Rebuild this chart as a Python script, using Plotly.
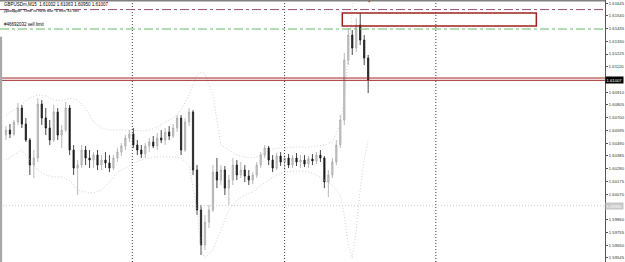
import plotly.graph_objects as go

# ---- data (GBPUSDm, M15) ----
bar_index = list(range(92))
open_ = [1.60557,1.60598,1.60566,1.60664,1.60780,1.60648,1.60516,1.60310,1.60368,1.60813,
         1.60697,1.60615,1.60516,1.60747,1.60557,1.60598,1.60780,1.60434,1.60285,1.60310,
         1.60434,1.60368,1.60351,1.60392,1.60310,1.60351,1.60327,1.60285,1.60368,1.60417,
         1.60467,1.60533,1.60566,1.60475,1.60434,1.60401,1.60467,1.60500,1.60467,1.60533,
         1.60516,1.60582,1.60549,1.60615,1.60697,1.60434,1.60664,1.60747,1.60269,1.59939,
         1.59651,1.59840,1.59939,1.60252,1.60186,1.60269,1.60120,1.60186,1.60310,1.60228,
         1.60269,1.60219,1.60186,1.60228,1.60310,1.60392,1.60450,1.60351,1.60285,1.60384,
         1.60335,1.60368,1.60310,1.60368,1.60335,1.60351,1.60318,1.60360,1.60343,1.60392,
         1.60368,1.60170,1.60228,1.60335,1.60475,1.60681,1.61175,1.61381,1.61274,1.61464,
         1.61340,1.61192]
high = [1.60631,1.60648,1.60681,1.60821,1.60805,1.60697,1.60533,1.60434,1.60862,1.60846,
        1.60780,1.60681,1.60805,1.60780,1.60640,1.60829,1.60805,1.60475,1.60351,1.60475,
        1.60467,1.60434,1.60417,1.60434,1.60392,1.60417,1.60392,1.60392,1.60450,1.60491,
        1.60557,1.60598,1.60615,1.60516,1.60475,1.60491,1.60533,1.60549,1.60574,1.60598,
        1.60615,1.60631,1.60648,1.60722,1.60722,1.60697,1.60780,1.60763,1.60310,1.59981,
        1.59898,1.59981,1.60310,1.60368,1.60310,1.60302,1.60228,1.60368,1.60351,1.60335,
        1.60310,1.60269,1.60252,1.60335,1.60417,1.60475,1.60467,1.60392,1.60409,1.60417,
        1.60392,1.60401,1.60392,1.60409,1.60392,1.60392,1.60384,1.60401,1.60417,1.60434,
        1.60384,1.60269,1.60368,1.60516,1.60722,1.61233,1.61439,1.61423,1.61522,1.61563,
        1.61381,1.61217]
low = [1.60516,1.60533,1.60549,1.60640,1.60615,1.60500,1.60228,1.60203,1.60335,1.60640,
       1.60557,1.60475,1.60500,1.60516,1.60450,1.60582,1.60392,1.60228,1.60063,1.60285,
       1.60310,1.60285,1.60285,1.60269,1.60269,1.60285,1.60252,1.60269,1.60335,1.60384,
       1.60434,1.60500,1.60450,1.60392,1.60368,1.60368,1.60417,1.60450,1.60434,1.60491,
       1.60475,1.60516,1.60533,1.60582,1.60392,1.60417,1.60631,1.60228,1.59898,1.59569,
       1.59610,1.59791,1.59923,1.60120,1.60145,1.60063,1.59981,1.60145,1.60186,1.60203,
       1.60170,1.60145,1.60153,1.60203,1.60285,1.60368,1.60310,1.60252,1.60269,1.60302,
       1.60269,1.60285,1.60285,1.60302,1.60285,1.60294,1.60285,1.60310,1.60318,1.60335,
       1.60120,1.60046,1.60203,1.60310,1.60450,1.60640,1.61134,1.61217,1.61241,1.61299,
       1.61134,1.60903]
close = [1.60598,1.60566,1.60664,1.60780,1.60648,1.60516,1.60310,1.60368,1.60813,1.60697,
         1.60615,1.60516,1.60747,1.60557,1.60598,1.60780,1.60434,1.60285,1.60310,1.60434,
         1.60368,1.60351,1.60392,1.60310,1.60351,1.60327,1.60285,1.60368,1.60417,1.60467,
         1.60533,1.60566,1.60475,1.60434,1.60401,1.60467,1.60500,1.60467,1.60533,1.60516,
         1.60582,1.60549,1.60615,1.60697,1.60434,1.60664,1.60747,1.60269,1.59939,1.59651,
         1.59840,1.59939,1.60252,1.60186,1.60269,1.60120,1.60186,1.60310,1.60228,1.60269,
         1.60219,1.60186,1.60228,1.60310,1.60392,1.60450,1.60351,1.60285,1.60384,1.60335,
         1.60368,1.60310,1.60368,1.60335,1.60351,1.60318,1.60360,1.60343,1.60392,1.60368,
         1.60170,1.60228,1.60335,1.60475,1.60681,1.61175,1.61381,1.61274,1.61464,1.61340,
         1.61192,1.61010]

band_index = [0,2,4,6,8,10,12,14,16,18,20,22,24,26,28,30,32,34,36,38,40,42,44,46,48,49,
              50,52,54,56,58,60,62,64,66,68,70,72,74,76,78,80,82,84,85,86,87,88,89,90,91]
band_upper = [1.60722,1.60763,1.60813,1.60862,1.60887,1.60879,1.60846,1.60838,1.60862,1.60846,
              1.60780,1.60664,1.60615,1.60598,1.60598,1.60598,1.60598,1.60590,1.60598,1.60623,
              1.60664,1.60697,1.60763,1.60887,1.61052,1.61076,1.61060,1.60887,1.60475,1.60434,
              1.60392,1.60376,1.60368,1.60392,1.60434,1.60450,1.60450,1.60458,1.60458,1.60458,
              1.60467,1.60475,1.60500,1.60640,1.60862,1.61258,1.61629,1.61917,1.62164,1.62411,
              1.62494]
band_lower = [1.60351,1.60392,1.60434,1.60351,1.60269,1.60228,1.60211,1.60211,1.60186,1.60104,
              1.60088,1.60079,1.60104,1.60170,1.60252,1.60285,1.60327,1.60351,1.60368,1.60376,
              1.60376,1.60376,1.60368,1.60310,1.59939,1.59610,1.59544,1.59610,1.59775,1.59939,
              1.60022,1.60063,1.60088,1.60145,1.60186,1.60228,1.60252,1.60261,1.60261,1.60252,
              1.60228,1.60186,1.60145,1.60063,1.59898,1.59651,1.59544,1.59775,1.60104,1.60351,
              1.60516]

# 1.61015 and 1.59965 sit under the price boxes on the right
tick_values = [1.61645,1.61540,1.61435,1.61330,1.61225,1.61120,1.60910,1.60805,1.60700,1.60595,
               1.60490,1.60385,1.60280,1.60175,1.60070,1.59860,1.59755,1.59650,1.59545]
tick_labels = ["1.61645","1.61540","1.61435","1.61330","1.61225","1.61120","1.60910","1.60805",
               "1.60700","1.60595","1.60490","1.60385","1.60280","1.60175","1.60070",
               "1.59860","1.59755","1.59650","1.59545"]

period_separators = [31.75, 70, 108]
level_purple = 1.61591
level_sell_limit = 1.61431
level_red = [1.61027, 1.61008]
level_gray = 1.59975
rect_x = [84.5, 133.25]
rect_y = [1.61455, 1.61563]
current_price = 1.61008
current_label = "1.61007"
gray_label_price = 1.59975
gray_label = "1.59965"

header = "GBPUSDm,M15  1.61002 1.61063 1.60950 1.61007"
timer_text = "Давидов: Time to next bar: 6 min 33 sec"
order_text = "#46692032 sell limit"

fig = go.Figure()

fig.add_trace(go.Scatter(x=band_index, y=band_upper, mode="lines",
                         line=dict(color="#c4c4c4", width=0.8, dash="1px,2px"), hoverinfo="skip"))
fig.add_trace(go.Scatter(x=band_index, y=band_lower, mode="lines",
                         line=dict(color="#c4c4c4", width=0.8, dash="1px,2px"), hoverinfo="skip"))

fig.add_trace(go.Candlestick(
    x=bar_index, open=open_, high=high, low=low, close=close,
    increasing=dict(line=dict(color="#a8a8a8", width=0.8), fillcolor="#d0d0d0"),
    decreasing=dict(line=dict(color="#1a1a1a", width=0.8), fillcolor="#1a1a1a"),
    whiskerwidth=0, hoverinfo="skip"))

fig.add_trace(go.Scatter(x=[91.25], y=[1.61665], mode="markers",
                         marker=dict(color="#cc0000", size=4, symbol="triangle-down"),
                         hoverinfo="skip"))

shapes = []
for xv in period_separators:
    shapes.append(dict(type="line", xref="x", yref="paper", x0=xv, x1=xv, y0=0, y1=1,
                       line=dict(color="#404040", width=1, dash="1px,2px")))
shapes.append(dict(type="line", xref="paper", yref="y", x0=0, x1=1, y0=level_purple, y1=level_purple,
                   line=dict(color="#9b4f7a", width=1, dash="dashdot")))
shapes.append(dict(type="line", xref="paper", yref="y", x0=0, x1=1, y0=level_sell_limit, y1=level_sell_limit,
                   line=dict(color="#66bb66", width=1, dash="dashdot")))
for lv in level_red:
    shapes.append(dict(type="line", xref="paper", yref="y", x0=0, x1=1, y0=lv, y1=lv,
                       line=dict(color="#a02828", width=1)))
shapes.append(dict(type="line", xref="paper", yref="y", x0=0, x1=1, y0=level_gray, y1=level_gray,
                   line=dict(color="#cccccc", width=1, dash="1px,2px")))
shapes.append(dict(type="rect", xref="x", yref="y", x0=rect_x[0], x1=rect_x[1], y0=rect_y[0], y1=rect_y[1],
                   line=dict(color="#a02020", width=1.5)))
shapes.append(dict(type="line", xref="paper", yref="paper", x0=0, x1=1, y0=0.997, y1=0.997,
                   line=dict(color="#808080", width=1.5)))
shapes.append(dict(type="rect", xref="paper", yref="paper", x0=0, x1=0.0035, y0=0, y1=0.86,
                   line=dict(width=0), fillcolor="#a8a8a8"))

annotations = [
    dict(text=header, xref="paper", yref="paper", x=0.004, y=1.0, xanchor="left", yanchor="top",
         showarrow=False, font=dict(family="Liberation Sans", size=4.5, color="#000000")),
    dict(text=timer_text, xref="paper", yref="paper", x=0.004, y=0.977, xanchor="left", yanchor="top",
         showarrow=False, font=dict(family="Liberation Sans", size=4.2, color="#000000")),
    dict(text=order_text, xref="paper", yref="y", x=0.004, y=level_sell_limit, xanchor="left", yanchor="bottom",
         showarrow=False, font=dict(family="Liberation Sans", size=4.5, color="#000000")),
    dict(text=current_label, xref="paper", yref="y", x=1.0, y=current_price, xanchor="left", yanchor="middle",
         showarrow=False, bgcolor="#000000", borderpad=0.5,
         font=dict(family="Liberation Sans", size=4.2, color="#ffffff")),
    dict(text=gray_label, xref="paper", yref="y", x=1.0, y=gray_label_price, xanchor="left", yanchor="middle",
         showarrow=False, bgcolor="#c8c8c8", borderpad=0.5,
         font=dict(family="Liberation Sans", size=4.2, color="#ffffff")),
]

fig.update_layout(
    width=625, height=262,
    margin=dict(l=0, r=17, t=0, b=0),
    paper_bgcolor="#ffffff", plot_bgcolor="#ffffff",
    showlegend=False,
    boxgap=0.55,
    shapes=shapes, annotations=annotations,
    xaxis=dict(range=[-1.5, 150.5], showgrid=False, zeroline=False, showticklabels=False,
               rangeslider=dict(visible=False), fixedrange=True),
    yaxis=dict(range=[1.59511, 1.61670], side="right", showgrid=False, zeroline=False,
               showline=True, linecolor="#555555", linewidth=1,
               ticks="outside", ticklen=2, tickcolor="#555555",
               tickvals=tick_values, ticktext=tick_labels,
               tickfont=dict(family="Liberation Sans", size=4.2, color="#333333")),
)

fig.write_html("out.html")
